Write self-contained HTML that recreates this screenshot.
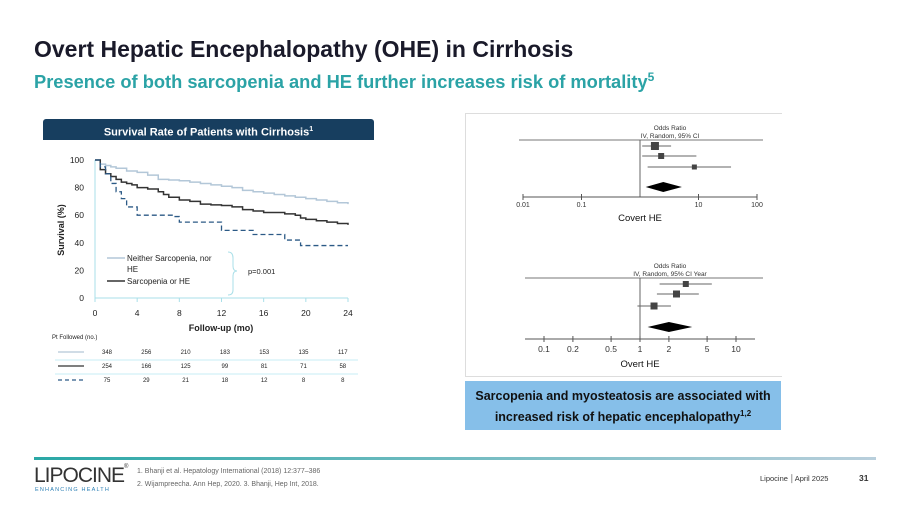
<!DOCTYPE html>
<html><head><meta charset="utf-8">
<style>
body{margin:0;width:900px;height:506px;overflow:hidden;background:#fff;font-family:"Liberation Sans",sans-serif;position:relative}
.abs{position:absolute}
</style></head><body>
<div class="abs" style="left:34px;top:36px;font-size:23px;font-weight:bold;color:#1a1a2a">Overt Hepatic Encephalopathy (OHE) in Cirrhosis</div>
<div class="abs" style="left:34px;top:70px;font-size:18.3px;font-weight:bold;color:#2ba3a6">Presence of both sarcopenia and HE further increases risk of mortality<sup style="font-size:12px">5</sup></div>
<div class="abs" style="left:43px;top:119px;width:331px;height:21px;background:#173e5f;border-radius:3px 3px 0 0;color:#fff;font-size:11px;font-weight:bold;text-align:center;line-height:21px">Survival Rate of Patients with Cirrhosis<sup style="font-size:7px">1</sup></div>
<div class="abs" style="left:465px;top:113px;width:316px;height:262px;border:1px solid #ddd;border-right:none"></div>
<div class="abs" style="left:465px;top:381px;width:316px;height:49px;background:#86bfe9;color:#111;font-size:12.5px;font-weight:bold;text-align:center;line-height:17px;padding-top:7px;box-sizing:border-box">Sarcopenia and myosteatosis are associated with<br>increased risk of hepatic encephalopathy<sup style="font-size:8px">1,2</sup></div>
<svg class="abs" style="left:0;top:0" width="900" height="506">
<defs><linearGradient id="fg" x1="0" x2="1"><stop offset="0" stop-color="#2aa8a6"/><stop offset="1" stop-color="#b9cfdc"/></linearGradient></defs>
<rect x="34" y="457" width="842" height="3" fill="url(#fg)"/>
<g id="km"></g>
<g id="fp"></g>
</svg>
<div class="abs" style="left:34px;top:464px;font-size:21px;color:#333;letter-spacing:-1px;font-weight:300">LIPOCINE<span style="font-size:6px;vertical-align:top">®</span></div>
<div class="abs" style="left:35px;top:487px;font-size:5.5px;color:#2b7fb5;letter-spacing:1.2px">ENHANCING HEALTH</div>
<div class="abs" style="left:137px;top:465px;font-size:7px;color:#666;line-height:13px">1. Bhanji et al. Hepatology International (2018) 12:377–386<br>2. Wijampreecha. Ann Hep, 2020. 3. Bhanji, Hep Int, 2018.</div>
<div class="abs" style="left:760px;top:474px;font-size:7.5px;color:#333">Lipocine │April 2025</div>
<div class="abs" style="left:859px;top:473px;font-size:8.5px;font-weight:bold;color:#333">31</div>
<script>
const kmTimes1=[0,0.5,1,1.5,2,3,4,5,6,7,8,9,10,11,12,13,14,15,16,17,18,19,20,21,22,23,24];
const kmNeither=[100,97,96,95,94,92,91,89,86,85.5,85,84,83,82,81,80,78,77,76,75,74,73,72,71,70,69,68];
const kmTimes2=[0,0.5,1,1.5,2,2.5,3,3.5,4,5,6,6.5,7,8,9,10,11,12,13,14,15,16,17,18,19,19.5,20,21,22,23,24];
const kmEither=[100,93,90,88,86,84,83,82,80,79,77,75,73,71,70,68,67.5,67,66,64,63,62,62,61,60,58,57,56,55,54,53];
const kmTimes3=[0,0.5,1,1.5,2,2.5,3,4,7.5,8,12,15,18,19.5,24];
const kmBoth=[100,95,90,83,77,72,66,60,59,55,49,46,42,38,38];
const xTicks=[0,4,8,12,16,20,24];
const yTicks=[0,20,40,60,80,100];
const atRiskNeither=[348,256,210,183,153,135,117];
const atRiskEither=[254,166,125,99,81,71,58];
const atRiskBoth=[75,29,21,18,12,8,8];
const covertOR=[1.8,2.3,8.5];const covertLo=[1.09,1.09,1.35];const covertHi=[3.4,9.2,36];const covertPooled=[2.5,1.25,5.2];
const overtOR=[3.0,2.4,1.4];const overtLo=[1.6,1.5,0.94];const overtHi=[5.6,4.1,2.1];const overtPooled=[2.0,1.2,3.5];
const ns="http://www.w3.org/2000/svg";
function mk(p,t,a,txt){const e=document.createElementNS(ns,t);for(const k in a)e.setAttribute(k,a[k]);if(txt!==undefined)e.textContent=txt;p.appendChild(e);return e;}
const km=document.getElementById('km');
const X=t=>95+t/24*253, Y=v=>298-v/100*138;
let e=mk(km,'path',{d:`M${X(0)},${Y(0)}V${Y(100)}M${X(0)},${Y(0)}H${X(24)}`,stroke:'#a9dfe8',fill:'none','stroke-width':1});

xTicks.forEach(t=>{mk(km,'line',{x1:X(t),x2:X(t),y1:298,y2:302,stroke:'#a9dfe8'});
 e=mk(km,'text',{x:X(t),y:316,'font-size':8.5,'text-anchor':'middle',fill:'#222'},t);
 });
yTicks.forEach(v=>{e=mk(km,'text',{x:84,y:Y(v)+3,'font-size':8.5,'text-anchor':'end',fill:'#222'},v);
 });
e=mk(km,'text',{x:221,y:331,'font-size':9,'font-weight':'bold','text-anchor':'middle',fill:'#222'},'Follow-up (mo)');

e=mk(km,'text',{x:64,y:230,'font-size':9,'font-weight':'bold','text-anchor':'middle',fill:'#222',transform:'rotate(-90 64 230)'},'Survival (%)');

function step(ts,vs){let d=`M${X(ts[0])},${Y(vs[0])}`;for(let i=1;i<ts.length;i++)d+=`H${X(ts[i])}V${Y(vs[i])}`;return d;}
e=mk(km,'path',{d:step(kmTimes1,kmNeither),stroke:'#b3c7d8',fill:'none','stroke-width':1.5});

e=mk(km,'path',{d:step(kmTimes2,kmEither),stroke:'#333',fill:'none','stroke-width':1.5});

e=mk(km,'path',{d:step(kmTimes3,kmBoth),stroke:'#2c5a86',fill:'none','stroke-width':1.3,'stroke-dasharray':'5,3'});

mk(km,'line',{x1:107,x2:125,y1:258,y2:258,stroke:'#b3c7d8','stroke-width':1.5});
e=mk(km,'text',{x:127,y:261,'font-size':8,fill:'#222'},'Neither Sarcopenia, nor');
mk(km,'text',{x:127,y:272,'font-size':8,fill:'#222'},'HE');
mk(km,'line',{x1:107,x2:125,y1:281,y2:281,stroke:'#333','stroke-width':1.5});
e=mk(km,'text',{x:127,y:284,'font-size':8,fill:'#222'},'Sarcopenia or HE');
mk(km,'path',{d:'M228,252Q233,252 233,258V266Q233,271 237,271Q233,271 233,276V290Q233,295 228,295',stroke:'#a9dfe8',fill:'none'});
e=mk(km,'text',{x:248,y:274,'font-size':7.5,fill:'#222'},'p=0.001');
e=mk(km,'text',{x:52,y:339,'font-size':6,fill:'#222'},'Pt Followed (no.)');
const rows=[[atRiskNeither,'#b3c7d8',''],[atRiskEither,'#333',''],[atRiskBoth,'#2c5a86','4,3']];
rows.forEach((r,i)=>{const y=354+i*14;
 mk(km,'line',{x1:58,x2:84,y1:y-2,y2:y-2,stroke:r[1],'stroke-width':1.2,'stroke-dasharray':r[2]});
 r[0].forEach((n,j)=>{e=mk(km,'text',{x:107+j*39.3,y:y,'font-size':6,'text-anchor':'middle',fill:'#222'},n);
  });
 if(i<2)mk(km,'line',{x1:55,x2:358,y1:y+6,y2:y+6,stroke:'#c7eef4'});});
const fp=document.getElementById('fp');
function forest(o,ors,los,his,pool,top,axisY,xs,ticks,ticklbl,title2,label,rowY,sizes){
 mk(fp,'text',{x:o.cx+30,y:top-10,'font-size':6.5,'text-anchor':'middle',fill:'#333'},'Odds Ratio');
 mk(fp,'text',{x:o.cx+30,y:top-2,'font-size':6.5,'text-anchor':'middle',fill:'#333'},title2);
 mk(fp,'line',{x1:o.l,x2:763,y1:top,y2:top,stroke:'#777'});
 mk(fp,'line',{x1:xs(1),x2:xs(1),y1:top,y2:axisY,stroke:'#666'});
 mk(fp,'line',{x1:o.al,x2:o.ar,y1:axisY,y2:axisY,stroke:'#555'});
 ticks.forEach((t,i)=>{mk(fp,'line',{x1:xs(t),x2:xs(t),y1:axisY-3,y2:axisY+3,stroke:'#555'});
  e=mk(fp,'text',{x:xs(t),y:axisY+o.ty,'font-size':o.fs,'text-anchor':'middle',fill:'#333'},ticklbl[i]);
  });
 ors.forEach((v,i)=>{const y=rowY[i];
  mk(fp,'line',{x1:xs(los[i]),x2:xs(his[i]),y1:y,y2:y,stroke:'#666'});
  const s=sizes[i];e=mk(fp,'rect',{x:xs(v)-s/2,y:y-s/2,width:s,height:s,fill:'#444'});
  });
 const dy=o.dy;e=mk(fp,'path',{d:`M${xs(pool[1])},${dy}L${xs(pool[0])},${dy-5}L${xs(pool[2])},${dy}L${xs(pool[0])},${dy+5}Z`,fill:'#000'});
 
 e=mk(fp,'text',{x:o.cx,y:axisY+o.ly,'font-size':9.5,'text-anchor':'middle',fill:'#111'},label);
 }
const xs1=v=>640+Math.log10(v)*58.5;
forest({l:519,al:523,ar:757,cx:640,ty:10,fs:7,ly:24,dy:187},covertOR,covertLo,covertHi,covertPooled,140,197,xs1,[0.01,0.1,10,100],['0.01','0.1','10','100'],'IV, Random, 95% CI','Covert HE',[146,156,167],[8,6,5]);
const xs2=v=>640+Math.log10(v)*96;
forest({l:525,al:525,ar:755,cx:640,ty:13,fs:8.5,ly:28,dy:327},overtOR,overtLo,overtHi,overtPooled,278,339,xs2,[0.1,0.2,0.5,1,2,5,10],['0.1','0.2','0.5','1','2','5','10'],'IV, Random, 95% CI Year','Overt HE',[284,294,306],[6,7,7]);
</script>
</body></html>
